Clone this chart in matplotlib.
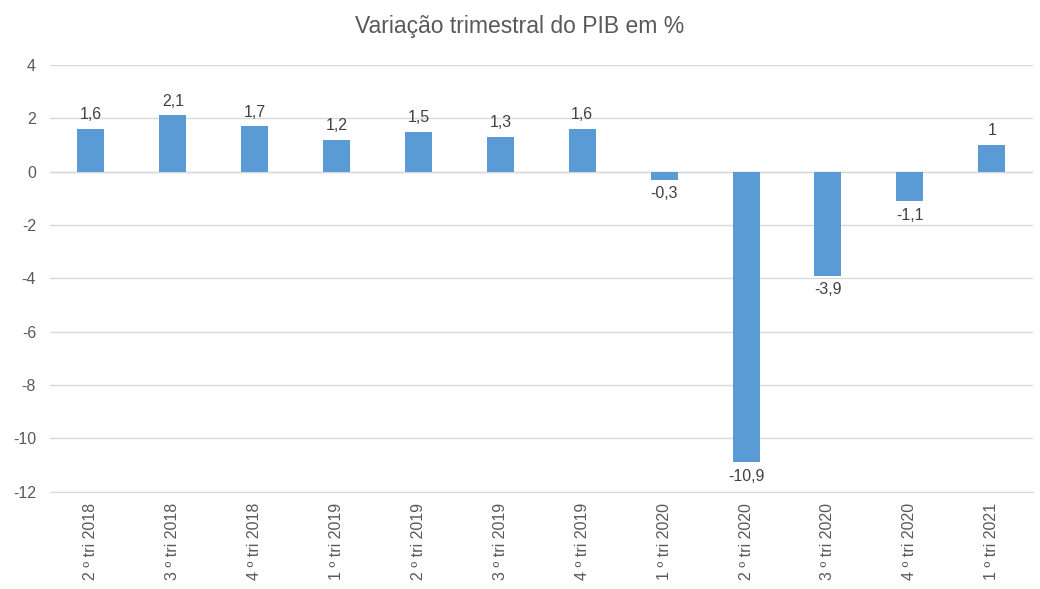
import matplotlib
matplotlib.use('Agg')
from matplotlib import pyplot as plt
import numpy as np

quarters = ['2 º tri 2018', '3 º tri 2018', '4 º tri 2018', '1 º tri 2019',
            '2 º tri 2019', '3 º tri 2019', '4 º tri 2019', '1 º tri 2020',
            '2 º tri 2020', '3 º tri 2020', '4 º tri 2020', '1 º tri 2021']
gdp_change = [1.6, 2.1, 1.7, 1.2, 1.5, 1.3, 1.6, -0.3, -10.9, -3.9, -1.1, 1.0]
value_labels = ['1,6', '2,1', '1,7', '1,2', '1,5', '1,3', '1,6', '-0,3', '-10,9', '-3,9', '-1,1', '1']

plt.rcParams['font.family'] = ['Liberation Sans', 'DejaVu Sans']
plt.rcParams['axes.unicode_minus'] = False
text_col = '#595959'

fig = plt.figure(figsize=(10.4, 5.89), dpi=100)
ax = fig.add_axes([0.048, 0.165, 0.945, 0.725])

x = np.arange(len(quarters))
bars = ax.bar(x, gdp_change, width=0.33, color='#5B9BD5', zorder=3)

for xi, v, lab in zip(x, gdp_change, value_labels):
    if v >= 0:
        ax.text(xi, v + 0.25, lab, ha='center', va='bottom', fontsize=11.5, color='#404040')
    else:
        ax.text(xi, v - 0.25, lab, ha='center', va='top', fontsize=11.5, color='#404040')

ax.set_ylim(-12, 4)
ax.set_yticks(range(-12, 5, 2))
ax.set_xlim(-0.5, len(quarters) - 0.5)
ax.set_xticks(x)
ax.set_xticklabels(quarters, rotation=90, fontsize=11.5, color=text_col)
ax.tick_params(axis='y', labelsize=11.5, colors=text_col, length=0, pad=10)
ax.tick_params(axis='x', length=0, pad=8)
ax.grid(axis='y', color='#D9D9D9', linewidth=1, zorder=0)
for s in ['top', 'right', 'left']:
    ax.spines[s].set_visible(False)
ax.spines['bottom'].set_color('#D9D9D9')
ax.axhline(0, color='#D9D9D9', linewidth=1, zorder=1)

fig.suptitle('Variação trimestral do PIB em %', fontsize=16.5, color=text_col, y=0.975)

fig.savefig('out.png', dpi=100)
